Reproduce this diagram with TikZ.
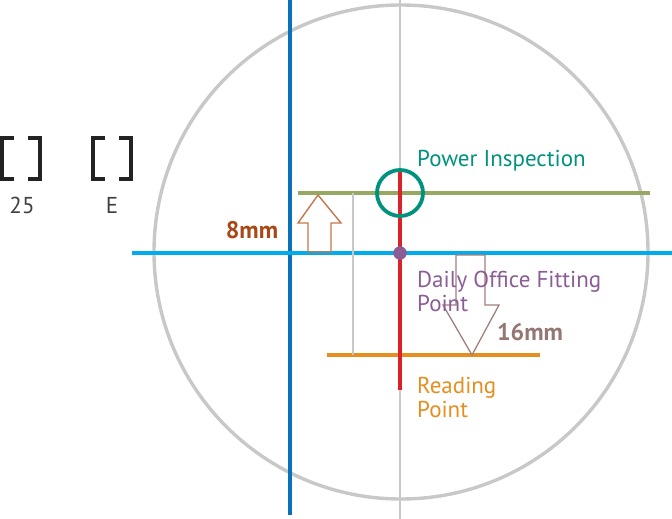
\documentclass[tikz,border=0pt]{standalone}
\usepackage{fontspec}
\setmainfont{PT Sans}
\usepackage{tikz}

\definecolor{ringgray}{RGB}{200,200,200}
\definecolor{axisblue}{RGB}{10,112,185}
\definecolor{levelcyan}{RGB}{0,172,236}
\definecolor{powerolive}{RGB}{150,168,98}
\definecolor{powerteal}{RGB}{0,146,125}
\definecolor{markred}{RGB}{218,35,40}
\definecolor{fitpurple}{RGB}{140,92,150}
\definecolor{readorange}{RGB}{230,142,30}
\definecolor{uparrow}{RGB}{196,118,76}
\definecolor{uptext}{RGB}{168,72,22}
\definecolor{downarrow}{RGB}{160,128,126}
\definecolor{downtext}{RGB}{148,118,114}
\definecolor{bracketdark}{RGB}{35,35,35}

\tikzset{
  lbl/.style={font=\fontsize{23}{24}\selectfont, anchor=west, align=left, inner sep=0pt},
  mm/.style={font=\fontsize{24}{26}\selectfont\bfseries, inner sep=0pt},
  brk/.style={bracketdark, line width=4pt},
  tag/.style={font=\fontsize{23}{24}\selectfont, text=black!75, inner sep=0pt}
}

\begin{document}
\begin{tikzpicture}[x=1pt, y=-1pt]
				\useasboundingbox (0,0) rectangle (672,519);
				% reference points
				\coordinate (center) at (401,252);
				\coordinate (power) at (400,193);
				\coordinate (fit) at (400,253);
				\coordinate (read) at (400,355);
				% big ring and axes
				\draw[ringgray, line width=3.4pt] (center) circle (247);
				\draw[ringgray, line width=1.8pt] (400,0) -- (400,519);
				\draw[axisblue, line width=3.2pt] (290,0) -- (290,515);
				\draw[levelcyan, line width=3.2pt] (132,253) -- (672,253);
				% level lines
				\draw[powerolive, line width=3.2pt] (298,193) -- (650,193);
				\draw[readorange, line width=3.2pt] (327,355) -- (540,355);
				\draw[ringgray, line width=1.4pt] (353,193) -- (353,355);
				\draw[markred, line width=3.2pt] (400,172) -- (400,390);
				\draw[powerteal, line width=3.8pt] (power) circle (23);
				\filldraw[fitpurple] (fit) circle (6.5);
				% arrows
				\draw[uparrow, line width=1.4pt] (318,195) -- (341,223) -- (331,223) -- (331,252) -- (308,252) -- (308,223) -- (298,223) -- cycle;
				\draw[downarrow, line width=1.3pt] (456,255) -- (485,255) -- (485,305) -- (499,305) -- (472,355) -- (443,305) -- (456,305) -- cycle;
				\node[mm, text=uptext] (up) at (252,230) {8mm};
				\node[mm, text=downtext] (down) at (530,332) {16mm};
				% labels
				\node[lbl, text=powerteal] (powerlbl) at (417,161) {Power Inspection};
				\node[lbl, text=fitpurple] (fitlbl) at (417,291) {Daily Office Fitting\\Point};
				\node[lbl, text=readorange] (readlbl) at (417,397) {Reading\\Point};
				% brackets
				\draw[brk] (14,138) -- (2,138) -- (2,179) -- (14,179);
				\draw[brk] (28,138) -- (40,138) -- (40,179) -- (28,179);
				\draw[brk] (105,138) -- (93,138) -- (93,179) -- (105,179);
				\draw[brk] (119,138) -- (131,138) -- (131,179) -- (119,179);
				\node[tag] (num) at (22,205) {25};
				\node[tag] (letter) at (112,205) {E};
			\end{tikzpicture}
\end{document}
